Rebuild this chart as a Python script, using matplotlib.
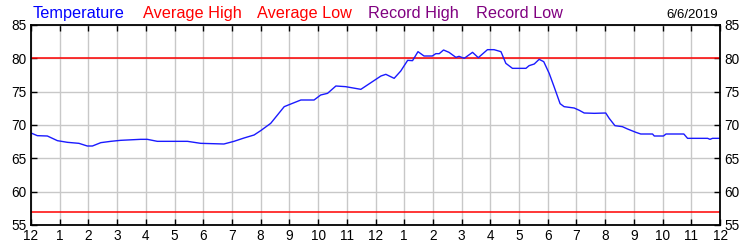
import matplotlib
matplotlib.use("Agg")
from matplotlib import pyplot as plt

plt.rcParams['font.family'] = ['Liberation Sans', 'DejaVu Sans']

# hours since midnight and temperature (F)
hours = [0.0, 0.22, 0.57, 0.92, 1.27, 1.67, 1.96, 2.14, 2.43, 2.78, 3.12, 3.82, 4.05,
         4.4, 5.45, 5.91, 6.72, 7.07, 7.42, 7.77, 8.0, 8.35, 8.82, 9.05, 9.4, 9.86,
         10.09, 10.33, 10.62, 10.96, 11.49, 11.84, 12.19, 12.36, 12.65, 12.88, 13.12,
         13.29, 13.48, 13.69, 13.98, 14.1, 14.22, 14.37, 14.56, 14.8, 14.91, 15.09,
         15.38, 15.58, 15.9, 16.13, 16.37, 16.54, 16.77, 17.24, 17.35, 17.53, 17.7,
         17.86, 18.05, 18.22, 18.43, 18.57, 18.92, 19.1, 19.27, 19.62, 20.02, 20.14,
         20.34, 20.6, 20.78, 21.07, 21.24, 21.65, 21.71, 22.03, 22.12, 22.74, 22.87,
         23.57, 23.65, 23.74, 24.0]
temps = [68.8, 68.4, 68.35, 67.65, 67.4, 67.25, 66.85, 66.85, 67.35, 67.55, 67.7, 67.85, 67.85,
         67.55, 67.55, 67.25, 67.15, 67.55, 68.05, 68.5, 69.15, 70.25, 72.75, 73.15, 73.75, 73.75,
         74.5, 74.75, 75.85, 75.75, 75.35, 76.35, 77.35, 77.6, 77.0, 78.1, 79.7,
         79.65, 81.0, 80.35, 80.35, 80.7, 80.7, 81.25, 80.9, 80.15, 80.3, 80.0,
         80.9, 80.1, 81.3, 81.3, 81.0, 79.25, 78.5, 78.5, 78.9, 79.15, 79.85,
         79.5, 77.75, 75.75, 73.2, 72.75, 72.55, 72.2, 71.8, 71.75, 71.8, 71.0,
         69.9, 69.75, 69.4, 68.9, 68.65, 68.65, 68.35, 68.35, 68.65, 68.65, 68.0,
         68.0, 67.85, 68.0, 68.0]

avg_high = 80
avg_low = 57
tick_hours = list(range(25))
tick_labels = ['12', '1', '2', '3', '4', '5', '6', '7', '8', '9', '10', '11',
               '12', '1', '2', '3', '4', '5', '6', '7', '8', '9', '10', '11', '12']
y_ticks = [55, 60, 65, 70, 75, 80, 85]

legend_items = [('Temperature', '#0000ff'), ('Average High', '#ff0000'),
                ('Average Low', '#ff0000'), ('Record High', '#800080'),
                ('Record Low', '#800080')]
legend_x = [33, 143, 257, 368, 476]
date_label = '6/6/2019'

fig = plt.figure(figsize=(7.5, 2.5), dpi=100)
ax = fig.add_axes([31 / 750, 0.1, 689 / 750, 0.8])

ax.grid(True, color='#c8c8c8', linewidth=1)
ax.set_axisbelow(True)
ax.axhline(avg_high, color='#ff0000', linewidth=1.1)
ax.axhline(avg_low, color='#ff0000', linewidth=1.1)
ax.plot(hours, temps, color='#1a1aff', linewidth=1)

ax.set_xlim(0, 24)
ax.set_ylim(55, 85)
ax.set_xticks(tick_hours)
ax.set_xticklabels(tick_labels)
ax.set_yticks(y_ticks)
ax.tick_params(direction='in', length=4, width=1, labelsize=9.8, colors='black',
               top=True, right=True, labelright=True, pad=3)
for s in ax.spines.values():
    s.set_linewidth(1.3)
    s.set_color('black')

# coloured series names across the top, date on the right
for (label, col), x in zip(legend_items, legend_x):
    fig.text(x / 750, 1 - 18 / 250, label, color=col, fontsize=11.7, va='baseline', ha='left')
fig.text(718 / 750, 1 - 18 / 250, date_label, color='black', fontsize=9.5, va='baseline', ha='right')

fig.savefig('out.png', dpi=100)
